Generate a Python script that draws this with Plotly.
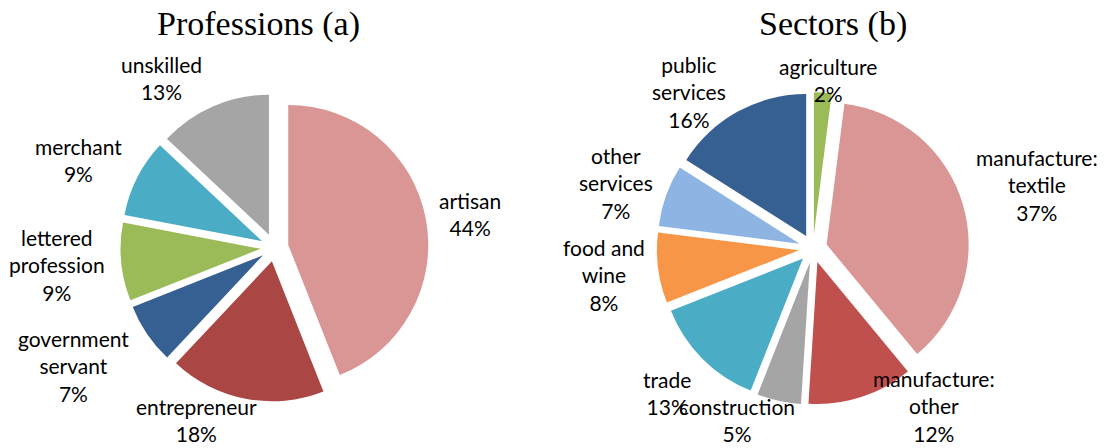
import plotly.graph_objects as go

# ---- data ----
prof_labels = ["artisan", "entrepreneur", "government<br>servant", "lettered<br>profession", "merchant", "unskilled"]
prof_values = [44, 18, 7, 9, 9, 13]

sect_labels = ["agriculture", "manufacture:<br>textile", "manufacture:<br>other", "construction",
               "trade", "food and<br>wine", "other<br>services", "public<br>services"]
sect_values = [2, 37, 12, 5, 13, 8, 7, 16]

titles = ["Professions (a)", "Sectors (b)"]

# ---- styles / layout ----
prof_colors = ["#D99694", "#AA4643", "#376092", "#9BBB59", "#4BACC6", "#A5A5A5"]
sect_colors = ["#9BBB59", "#D99694", "#C0504D", "#A5A5A5", "#4BACC6", "#F79646", "#8EB4E3", "#376092"]

W, H = 1105, 448
OFF = 8  # the page body adds an 8px margin; compensate so the picture lines up
LABEL_FONT = dict(family="Lato, 'Open Sans', sans-serif", size=21, color="#000000")
TITLE_FONT = dict(family="'Liberation Serif', serif", size=34, color="#000000")

PULL = 0.1
# pie centres (px) and radii (px)
prof_pie = dict(cx=274.5, cy=247.5, r=140)
sect_pie = dict(cx=813, cy=248.5, r=142)

# data-label anchor positions (pixel centres of each text block), Excel "best fit" placement
prof_label_pos = [(470, 214), (196, 420), (73, 366), (57, 265), (78, 160), (161, 78)]
sect_label_pos = [(828, 80), (1037, 185), (934, 406), (737, 420), (667, 393), (604, 275),
                  (616, 183), (689, 92)]
title_pos = [(258, 24), (833, 24)]


def px_to_paper(x, y):
    return (x - OFF) / W, 1 - (y - OFF) / H


def domain_for(p):
    half = p["r"] * (1 + PULL)
    x, y = px_to_paper(p["cx"], p["cy"])
    return dict(x=[x - half / W, x + half / W], y=[y - half / H, y + half / H])


fig = go.Figure()

fig.add_trace(go.Pie(
    labels=prof_labels, values=prof_values,
    marker=dict(colors=prof_colors, line=dict(width=0)),
    sort=False, direction="clockwise", rotation=0,
    pull=[PULL] * len(prof_values),
    textinfo="none",
    hovertemplate="%{label}: %{percent:.0%}<extra></extra>",
    domain=domain_for(prof_pie),
    showlegend=False,
))

fig.add_trace(go.Pie(
    labels=sect_labels, values=sect_values,
    marker=dict(colors=sect_colors, line=dict(width=0)),
    sort=False, direction="clockwise", rotation=0,
    pull=[PULL] * len(sect_values),
    textinfo="none",
    hovertemplate="%{label}: %{percent:.0%}<extra></extra>",
    domain=domain_for(sect_pie),
    showlegend=False,
))

for labels, values, positions in [(prof_labels, prof_values, prof_label_pos),
                                  (sect_labels, sect_values, sect_label_pos)]:
    total = sum(values)
    for lab, val, (px, py) in zip(labels, values, positions):
        x, y = px_to_paper(px, py)
        fig.add_annotation(text=f"{lab}<br>{round(100 * val / total)}%", x=x, y=y,
                           xref="paper", yref="paper", xanchor="center", yanchor="middle",
                           showarrow=False, font=LABEL_FONT, align="center")

for t, (px, py) in zip(titles, title_pos):
    x, y = px_to_paper(px, py)
    fig.add_annotation(text=t, x=x, y=y, xref="paper", yref="paper",
                       xanchor="center", yanchor="middle", showarrow=False, font=TITLE_FONT)

fig.update_layout(
    width=W, height=H,
    margin=dict(l=0, r=0, t=0, b=0, autoexpand=False),
    paper_bgcolor="white", plot_bgcolor="white",
    font=LABEL_FONT,
)

fig.write_html("out.html")
